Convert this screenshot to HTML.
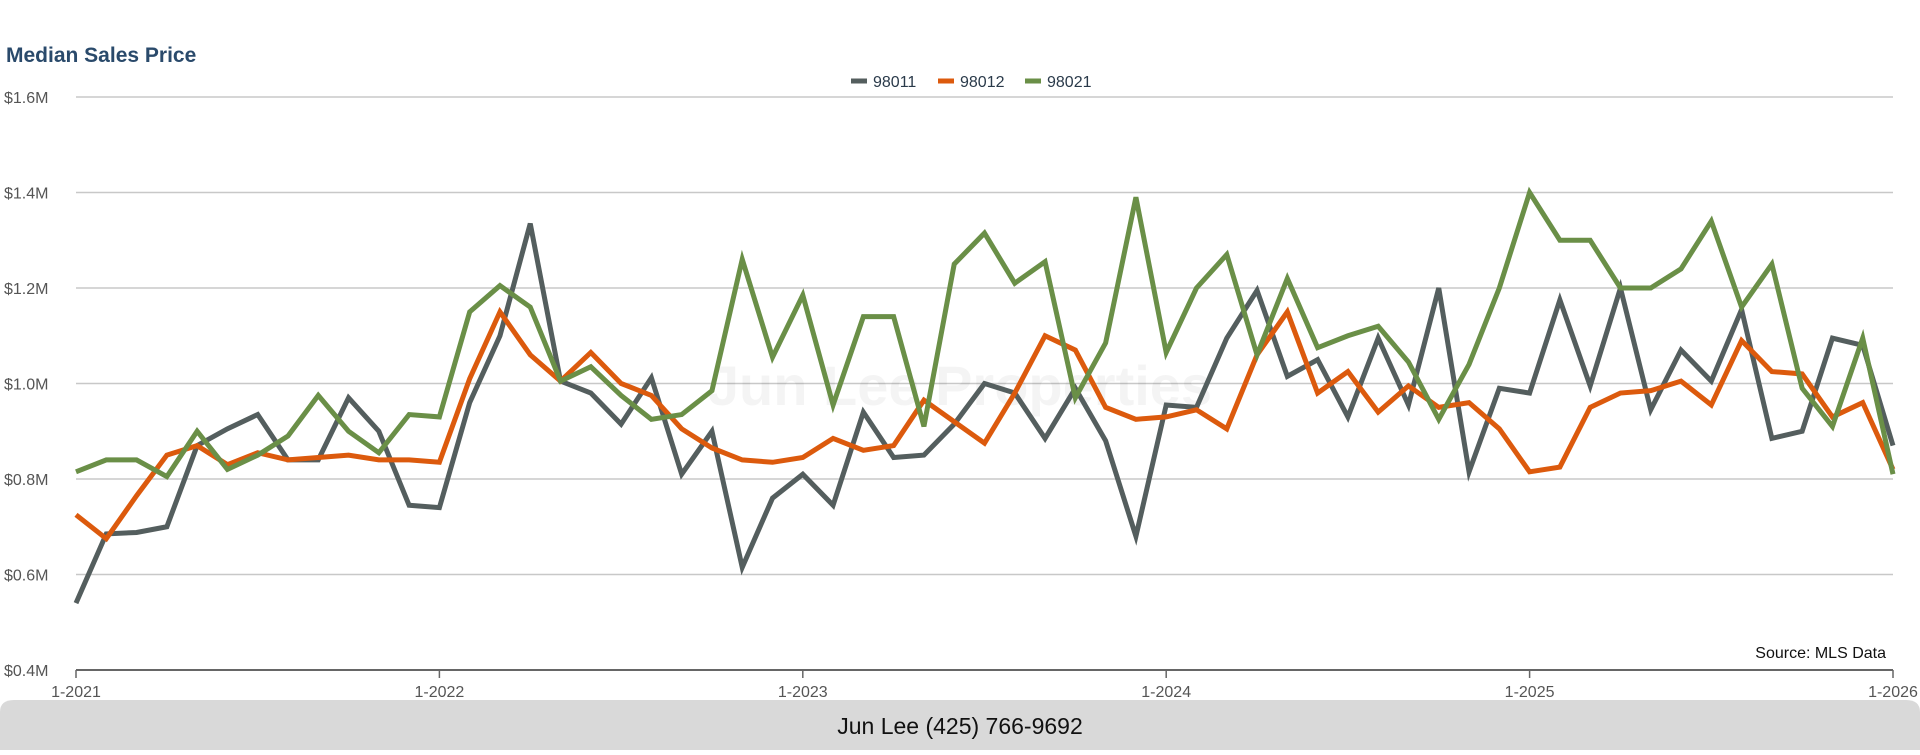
<!DOCTYPE html>
<html><head><meta charset="utf-8"><style>
body{margin:0;background:#fff;width:1920px;height:750px;overflow:hidden;font-family:"Liberation Sans",sans-serif}
</style></head><body>
<svg id="c" width="1920" height="750">
<text x="6" y="62" font-size="21" font-weight="bold" fill="#2a4a6b">Median Sales Price</text>
<g id="legend"></g>
<g id="grid"></g>
<text x="960" y="405" text-anchor="middle" font-size="56" font-weight="bold" fill="#000" opacity="0.04">Jun Lee Properties</text>
<g id="lines"></g>
<g id="xaxis"></g>
<text x="1886" y="658" text-anchor="end" font-size="16" fill="#111">Source: MLS Data</text>
<path d="M0,712 Q0,700 14,700 L1906,700 Q1920,700 1920,712 L1920,750 L0,750 Z" fill="#d9d9d9"/>
<text x="960" y="734" text-anchor="middle" font-size="23" fill="#111">Jun Lee (425) 766-9692</text>
</svg>
<script>
const months = 61;
const xTicks = ["1-2021","1-2022","1-2023","1-2024","1-2025","1-2026"];
const yTicks = [0.4,0.6,0.8,1.0,1.2,1.4,1.6];
const seriesNames = ["98011","98012","98021"];
const seriesColors = ["#545e5e","#dc5a0d","#6a8f47"];
const s98011 = [0.54,0.685,0.688,0.70,0.87,0.905,0.935,0.84,0.84,0.97,0.90,0.745,0.74,0.96,1.10,1.335,1.005,0.98,0.915,1.012,0.81,0.90,0.615,0.76,0.81,0.745,0.94,0.845,0.85,0.915,1.00,0.98,0.885,0.99,0.88,0.68,0.955,0.95,1.095,1.195,1.015,1.05,0.93,1.095,0.955,1.20,0.815,0.99,0.98,1.175,0.995,1.20,0.945,1.07,1.005,1.155,0.885,0.90,1.095,1.08,0.87];
const s98012 = [0.725,0.675,0.765,0.85,0.87,0.83,0.855,0.84,0.845,0.85,0.84,0.84,0.835,1.01,1.15,1.06,1.005,1.065,1.00,0.975,0.905,0.865,0.84,0.835,0.845,0.885,0.86,0.87,0.965,0.92,0.875,0.98,1.10,1.07,0.95,0.925,0.93,0.945,0.905,1.06,1.15,0.98,1.025,0.94,0.995,0.95,0.96,0.905,0.815,0.825,0.95,0.98,0.985,1.005,0.955,1.09,1.025,1.02,0.93,0.96,0.82];
const s98021 = [0.815,0.84,0.84,0.805,0.90,0.82,0.85,0.89,0.975,0.90,0.855,0.935,0.93,1.15,1.205,1.16,1.005,1.035,0.975,0.925,0.935,0.985,1.26,1.055,1.185,0.955,1.14,1.14,0.91,1.25,1.315,1.21,1.255,0.97,1.085,1.39,1.065,1.20,1.27,1.06,1.22,1.075,1.10,1.12,1.045,0.925,1.04,1.20,1.40,1.30,1.30,1.20,1.20,1.24,1.34,1.16,1.25,0.99,0.91,1.095,0.81];
const NS="http://www.w3.org/2000/svg";
const X0=76,X1=1893,Y0=670,Y1=97;
const xs=i=>X0+(X1-X0)*i/(months-1);
const ys=v=>Y0-(v-0.4)/(1.6-0.4)*(Y0-Y1);
function mk(t,a,p){const e=document.createElementNS(NS,t);for(const k in a)e.setAttribute(k,a[k]);p.appendChild(e);return e;}
const grid=document.getElementById('grid');
yTicks.forEach(v=>{
  const l=mk('line',{x1:X0,x2:X1,y1:ys(v),y2:ys(v),stroke:v===0.4?'#666':'#c8c8c8','stroke-width':v===0.4?2:1.5},grid);
  
  
  const t=mk('text',{x:4,y:ys(v)+6,'font-size':16,fill:'#555'},grid);
  t.textContent='$'+v.toFixed(1)+'M';
  
  
});
const xa=document.getElementById('xaxis');
xTicks.forEach((s,i)=>{
  const x=xs(i*12);
  const tk=mk('line',{x1:x,x2:x,y1:Y0,y2:Y0+8,stroke:'#666','stroke-width':1.5},xa);
  
  
  const t=mk('text',{x:x,y:Y0+27,'font-size':16,fill:'#555','text-anchor':'middle'},xa);
  t.textContent=s;
  
  
});
const lines=document.getElementById('lines');
[s98011,s98012,s98021].forEach((d,k)=>{
  const p=mk('polyline',{points:d.map((v,i)=>xs(i)+','+ys(v)).join(' '),fill:'none',stroke:seriesColors[k],'stroke-width':5,'stroke-linejoin':'miter'},lines);
  
  
});
const lg=document.getElementById('legend');
const lx=[851,938,1025];
seriesNames.forEach((n,k)=>{
  const l=mk('line',{x1:lx[k],x2:lx[k]+16,y1:81,y2:81,stroke:seriesColors[k],'stroke-width':5},lg);
  
  
  const t=mk('text',{x:lx[k]+22,y:87,'font-size':16,fill:'#2a3a4a'},lg);
  t.textContent=n;
  
  
});
</script>
</body></html>
